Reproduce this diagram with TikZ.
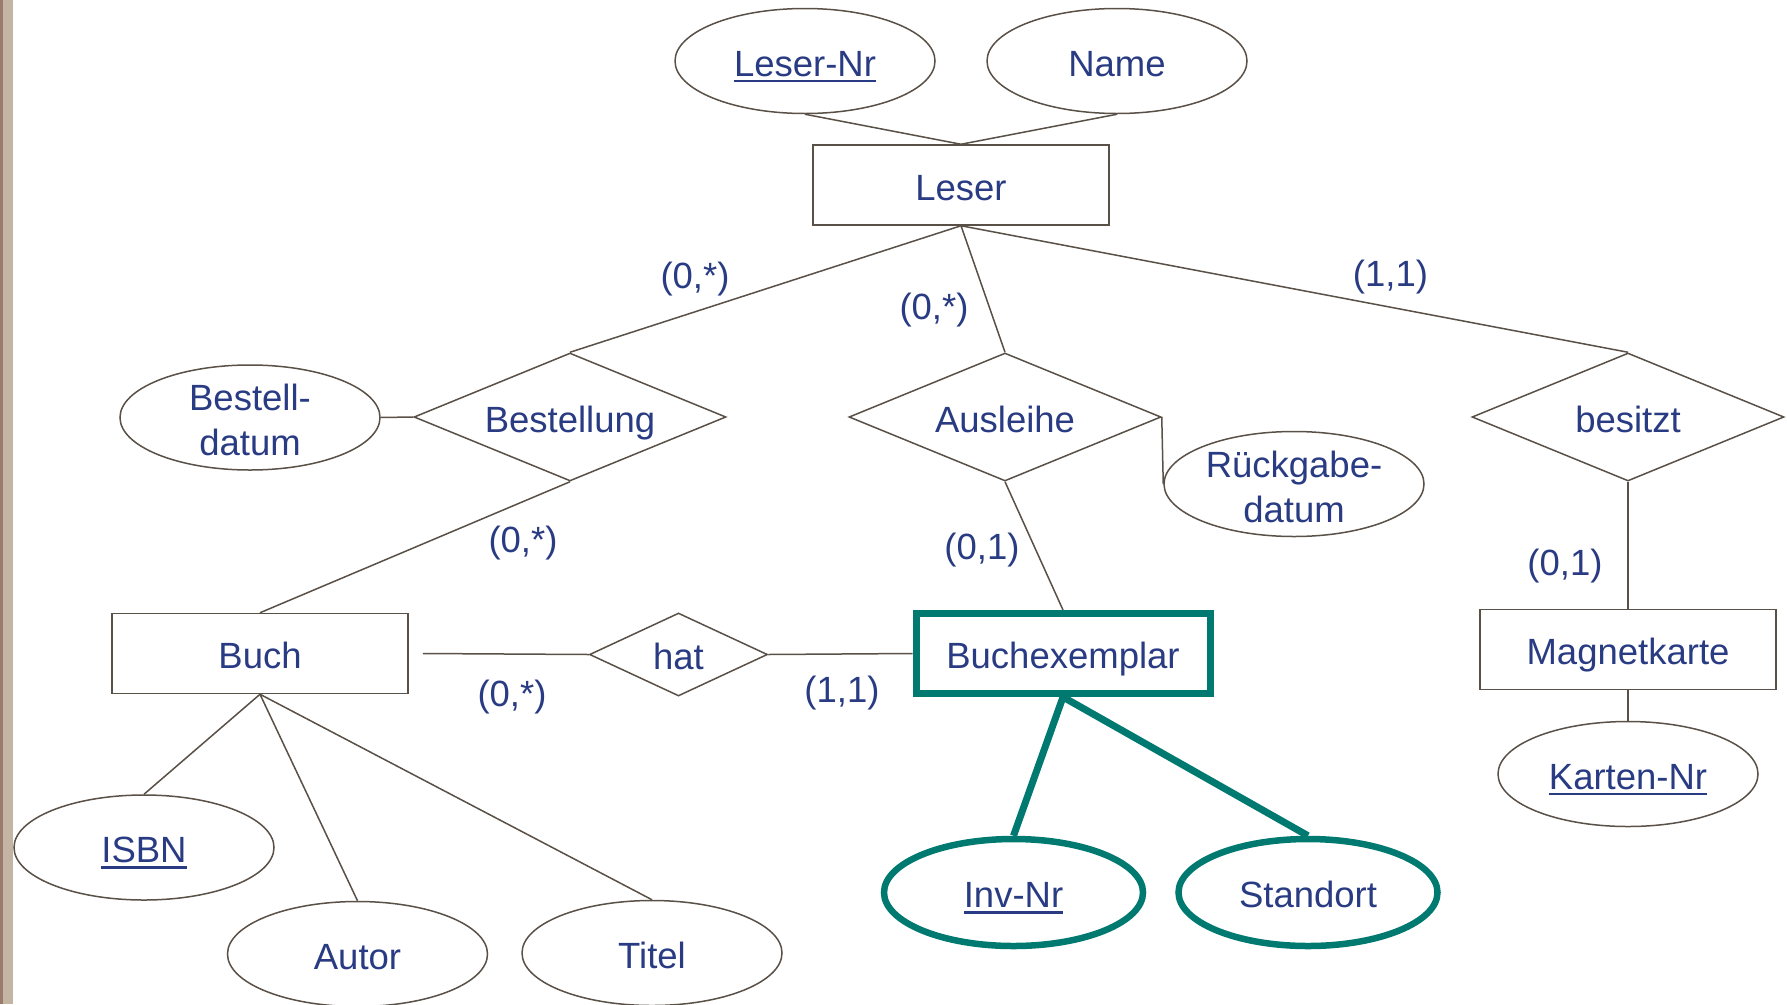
\documentclass[tikz,border=0pt]{standalone}
\usepackage{fontspec}
\setmainfont{Liberation Sans}
\usetikzlibrary{shapes.geometric}
\definecolor{txt}{RGB}{41,59,130}
\definecolor{ln}{RGB}{89,80,71}
\definecolor{tealw}{RGB}{0,122,112}
\definecolor{barD}{RGB}{155,123,107}
\definecolor{barL}{RGB}{196,180,163}
\newcommand\ulk[1]{\setbox0\hbox{#1}\rlap{\color{txt}\rule[-6.4pt]{\wd0}{2.7pt}}\box0}
\begin{document}
\begin{tikzpicture}[x=1pt,y=-1pt,
  every node/.style={font=\fontsize{36.5}{45}\selectfont, text=txt},
  one/.style={text height=30.1pt, text depth=0pt},
  ent/.style={one, draw=ln, line width=1.5pt, rectangle, minimum width=296pt, minimum height=80pt, inner sep=0pt},
  went/.style={one, draw=tealw, line width=7pt, rectangle, minimum width=294pt, minimum height=80pt, inner sep=0pt},
  attr/.style={one, draw=ln, line width=1.5pt, ellipse, minimum width=260pt, minimum height=105pt, inner sep=0pt},
  attrtwo/.style={draw=ln, line width=1.5pt, ellipse, minimum width=260pt, minimum height=105pt, inner sep=0pt},
  wattr/.style={one, draw=tealw, line width=6.5pt, ellipse, minimum width=259pt, minimum height=107pt, inner sep=0pt},
  rel/.style={one, draw=ln, line width=1.5pt, diamond, minimum width=312pt, minimum height=128pt, inner sep=0pt, aspect=2.4375},
  smallrel/.style={one, draw=ln, line width=1.5pt, diamond, minimum width=178pt, minimum height=83pt, inner sep=0pt, aspect=2.14},
  twoline/.style={align=center, inner sep=0pt},
  card/.style={inner sep=0pt},
  conn/.style={draw=ln, line width=1.5pt},
  weak/.style={draw=tealw, line width=7pt}
]
\clip (0,0) rectangle (1787,1004);
\fill[white] (0,0) rectangle (1787,1004);
\fill[barD] (0,0) rectangle (3,1004);
\fill[barL] (3,0) rectangle (13,1004);

% entities
\node[ent] (leser) at (961,185) {Leser};
\node[ent] (buch) at (260,653.5) {Buch};
\node[went] (bex) at (1063,653.5) {Buchexemplar};
\node[ent] (mk) at (1628,649.5) {Magnetkarte};

% relationships
\node[rel] (best) at (570,417) {Bestellung};
\node[rel] (ausl) at (1005,417) {Ausleihe};
\node[rel] (bes) at (1628,417) {besitzt};
\node[smallrel] (hat) at (678.5,654.5) {hat};

% attributes
\node[attr] (lnr) at (805,61) {\ulk{Leser-Nr}};
\node[attr] (name) at (1117,61) {Name};
\node[attrtwo] (bdat) at (250,417.5) {};
\node[twoline] (bdattxt) at (250,419.5) {Bestell-\\datum};
\node[attrtwo] (rdat) at (1294,484) {};
\node[twoline] (rdattxt) at (1294,486.5) {Rückgabe-\\datum};
\node[attr] (knr) at (1628,774) {\ulk{Karten-Nr}};
\node[attr] (isbn) at (144,847.5) {\ulk{ISBN}};
\node[attr] (autor) at (357.5,954) {Autor};
\node[attr] (titel) at (652,953) {Titel};
\node[wattr] (inv) at (1013.5,892.5) {\ulk{Inv-Nr}};
\node[wattr] (stand) at (1308,892.5) {Standort};

% connectors
\draw[conn] (lnr.south) -- (leser.north);
\draw[conn] (name.south) -- (leser.north);
\draw[conn] (leser.south) -- (best.north);
\draw[conn] (leser.south) -- (ausl.north);
\draw[conn] (leser.south) -- (bes.north);
\draw[conn] (bdat.east) -- (best.west);
\draw[conn] (ausl.east) -- (rdat.west);
\draw[conn] (bes.south) -- (mk.north);
\draw[conn] (mk.south) -- (knr.north);
\draw[conn] (best.south) -- (buch.north);
\draw[conn] (ausl.south) -- (bex.north);
\draw[conn] ([xshift=14pt]buch.east) -- (hat.west);
\draw[conn] (hat.east) -- (bex.west);
\draw[conn] (buch.south) -- (isbn.north);
\draw[conn] (buch.south) -- (autor.north);
\draw[conn] (buch.south) -- (titel.north);
\draw[weak] (bex.south) -- (inv.north);
\draw[weak] (bex.south) -- (stand.north);

% cardinalities
\node[card] (c1) at (695,279) {(0,*)};
\node[card] (c2) at (934,310) {(0,*)};
\node[card] (c3) at (1390.5,277.5) {(1,1)};
\node[card] (c4) at (523,543.5) {(0,*)};
\node[card] (c5) at (982,550.5) {(0,1)};
\node[card] (c6) at (1565,566) {(0,1)};
\node[card] (c7) at (512,697) {(0,*)};
\node[card] (c8) at (842,693) {(1,1)};
\end{tikzpicture}
\end{document}
